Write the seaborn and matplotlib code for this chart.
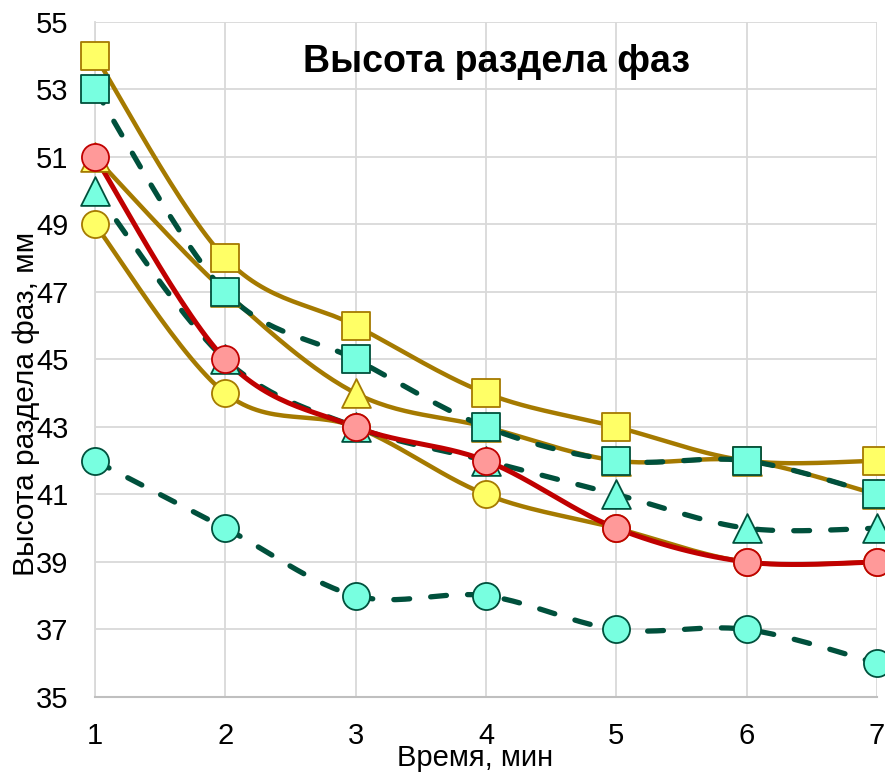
import numpy as np
import pandas as pd
import matplotlib
matplotlib.use('Agg')
import matplotlib.pyplot as plt
import seaborn as sns

# данные: время и высота раздела фаз для каждой серии
time_min = [1, 2, 3, 4, 5, 6, 7]
y_sq_gold = [54, 48, 46, 44, 43, 42, 42]
y_tri_gold = [51, 47, 44, 43, 42, 42, 41]
y_circ_gold = [49, 44, 43, 41, 40, 39, 39]
y_sq_teal = [53, 47, 45, 43, 42, 42, 41]
y_tri_teal = [50, 45, 43, 42, 41, 40, 40]
y_circ_teal = [42, 40, 38, 38, 37, 37, 36]
y_red = [51, 45, 43, 42, 40, 39, 39]

GOLD = '#A57A00'
YEL = '#FFFF66'
TEAL = '#78FFE0'
DKGR = '#00503C'
RED = '#C00000'
PINK = '#FF9999'


def smooth(x, y, n=30):
    # сглаживание как в Excel (Catmull-Rom через Безье)
    x = np.asarray(x, float)
    y = np.asarray(y, float)
    px = np.concatenate([[x[0]], x, [x[-1]]])
    py = np.concatenate([[y[0]], y, [y[-1]]])
    xs, ys = [], []
    t = np.linspace(0, 1, n)
    for i in range(1, len(px) - 2):
        p0 = np.array([px[i], py[i]])
        p3 = np.array([px[i + 1], py[i + 1]])
        p1 = p0 + (np.array([px[i + 1], py[i + 1]]) - np.array([px[i - 1], py[i - 1]])) / 6
        p2 = p3 - (np.array([px[i + 2], py[i + 2]]) - np.array([px[i], py[i]])) / 6
        b = ((1 - t) ** 3)[:, None] * p0 + (3 * (1 - t) ** 2 * t)[:, None] * p1 \
            + (3 * (1 - t) * t ** 2)[:, None] * p2 + (t ** 3)[:, None] * p3
        xs.extend(b[:, 0])
        ys.extend(b[:, 1])
    return pd.DataFrame({'x': xs, 'y': ys})


sns.set_style('whitegrid')
plt.rcParams['font.family'] = ['Liberation Sans', 'DejaVu Sans']
plt.rcParams['text.color'] = 'black'
plt.rcParams['axes.labelcolor'] = 'black'

fig = plt.figure(figsize=(8.85, 7.74), dpi=100)
ax = fig.add_axes([0.1073, 0.0995, 0.8837, 0.8721])

series = [
    (y_sq_gold, GOLD, '-', 's', YEL, GOLD),
    (y_tri_gold, GOLD, '-', '^', YEL, GOLD),
    (y_circ_gold, GOLD, '-', 'o', YEL, GOLD),
    (y_circ_teal, DKGR, '--', 'o', TEAL, DKGR),
    (y_sq_teal, DKGR, '--', 's', TEAL, DKGR),
    (y_tri_teal, DKGR, '--', '^', TEAL, DKGR),
    (y_red, RED, '-', 'o', PINK, RED),
]

# линии
for vals, lc, ls, mk, fc, ec in series:
    d = smooth(time_min, vals)
    if ls == '-':
        lw = 3.6 if lc == RED else 3.2
        sns.lineplot(data=d, x='x', y='y', sort=False, color=lc, lw=lw, ax=ax,
                     zorder=2, estimator=None, solid_capstyle='round')
    else:
        sns.lineplot(data=d, x='x', y='y', sort=False, color=lc, lw=3.8, ax=ax,
                     zorder=2, estimator=None, linestyle=(0, (3, 4)),
                     dash_capstyle='round')

# маркеры
for vals, lc, ls, mk, fc, ec in series:
    sns.scatterplot(x=time_min, y=vals, marker=mk, s=380 if mk != '^' else 430, color=fc,
                    edgecolor=ec, linewidth=1.3, ax=ax, zorder=3, clip_on=False)

ax.set_xlim(1, 7)
ax.set_ylim(35, 55)
ax.set_xticks(time_min)
ax.set_yticks(np.arange(35, 56, 2))
ax.grid(True, color='#D9D9D9', lw=1.3)
for s in ['top', 'right']:
    ax.spines[s].set_visible(False)
ax.spines['left'].set_color('#D9D9D9')
ax.spines['left'].set_linewidth(1.3)
ax.spines['bottom'].set_color('#BFBFBF')
ax.spines['bottom'].set_linewidth(1.5)
ax.tick_params(axis='both', labelsize=21, length=0, colors='black')
ax.tick_params(axis='y', pad=19)
ax.tick_params(axis='x', pad=18)

ax.set_xlabel('Время, мин', fontsize=21, va='top')
ax.set_ylabel('Высота раздела фаз, мм', fontsize=21.5)
ax.xaxis.set_label_coords(0.486, -0.069)
ax.yaxis.set_label_coords(-0.07, 0.434)
ax.text(0.514, 0.94, 'Высота раздела фаз', transform=ax.transAxes, ha='center',
        va='center', fontsize=27, fontweight='bold')

fig.savefig('out.png', dpi=100)
